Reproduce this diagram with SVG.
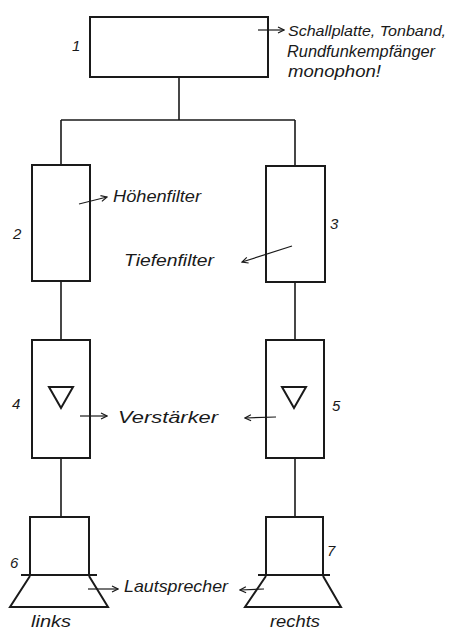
<svg xmlns="http://www.w3.org/2000/svg" width="454" height="631" viewBox="0 0 454 631">
<style>
.box{fill:none;stroke:#1a1a1a;stroke-width:2}
.ln{fill:none;stroke:#1a1a1a;stroke-width:1.6}
.ar{fill:none;stroke:#1a1a1a;stroke-width:1.2;marker-end:url(#chev)}
.hw{font-family:"Liberation Sans",Arial,sans-serif;font-style:italic;font-size:17px;fill:#1a1a1a}
.num{font-family:"Liberation Sans",Arial,sans-serif;font-style:italic;font-size:15px;fill:#1a1a1a}
</style>
<defs>
<marker id="chev" viewBox="0 0 8 8" refX="7" refY="4" markerWidth="8" markerHeight="8" markerUnits="userSpaceOnUse" orient="auto">
<path d="M1,1 L7,4 L1,7" fill="none" stroke="#1a1a1a" stroke-width="1.2"/>
</marker>
</defs>
<rect width="454" height="631" fill="#fff"/>
<g id="connectors">
<path class="ln" d="M179,77 V120 M61,120 H295 M61,120 V165 M295,120 V166"/>
<path class="ln" d="M61,281 V340 M295,282 V340"/>
<path class="ln" d="M61,458 V517 M295,458 V517"/>
</g>
<g id="node1">
<rect class="box" x="90" y="17" width="178" height="60"/>
<text class="num" x="72" y="51">1</text>
<path class="ar" d="M258,30 H284"/>
<text class="hw" x="288" y="36" style="font-size:15px" textLength="158" lengthAdjust="spacingAndGlyphs">Schallplatte, Tonband,</text>
<text class="hw" x="287" y="57" textLength="148" lengthAdjust="spacingAndGlyphs">Rundfunkempfänger</text>
<text class="hw" x="288" y="77" textLength="93" lengthAdjust="spacingAndGlyphs">monophon!</text>
</g>
<g id="node2">
<rect class="box" x="32" y="165" width="58" height="116"/>
<text class="num" x="13" y="239">2</text>
<path class="ar" d="M79,204 L107,197"/>
<text class="hw" x="113" y="202" textLength="88" lengthAdjust="spacingAndGlyphs">Höhenfilter</text>
</g>
<g id="node3">
<rect class="box" x="266" y="166" width="59" height="116"/>
<text class="num" x="330" y="229">3</text>
<path class="ar" d="M292,246 L242,262"/>
<text class="hw" x="124" y="266" textLength="90" lengthAdjust="spacingAndGlyphs">Tiefenfilter</text>
</g>
<g id="node4">
<rect class="box" x="32" y="340" width="58" height="118"/>
<path class="box" d="M49,387 H73 L61,408 Z"/>
<text class="num" x="12" y="409">4</text>
<path class="ar" d="M80,416 H107"/>
<text class="hw" x="118" y="423" textLength="100" lengthAdjust="spacingAndGlyphs">Verstärker</text>
</g>
<g id="node5">
<rect class="box" x="266" y="340" width="58" height="118"/>
<path class="box" d="M282,387 H306 L294,408 Z"/>
<text class="num" x="332" y="411">5</text>
<path class="ar" d="M276,417 L245,418"/>
</g>
<g id="node6">
<rect class="box" x="30" y="517" width="59" height="58"/>
<path class="box" d="M21,575 H97 M30,576 L10,607 H108 L89,576"/>
<text class="num" x="10" y="568">6</text>
<path class="ar" d="M88,589 H118"/>
<text class="hw" x="124" y="592" textLength="104" lengthAdjust="spacingAndGlyphs">Lautsprecher</text>
<text class="hw" x="31" y="627" textLength="40" lengthAdjust="spacingAndGlyphs">links</text>
</g>
<g id="node7">
<rect class="box" x="266" y="517" width="57" height="58"/>
<path class="box" d="M258,575 H330 M266,576 L245,607 H341 L323,576"/>
<text class="num" x="327" y="556">7</text>
<path class="ar" d="M264,589 L240,590"/>
<text class="hw" x="270" y="627" textLength="50" lengthAdjust="spacingAndGlyphs">rechts</text>
</g>
</svg>
